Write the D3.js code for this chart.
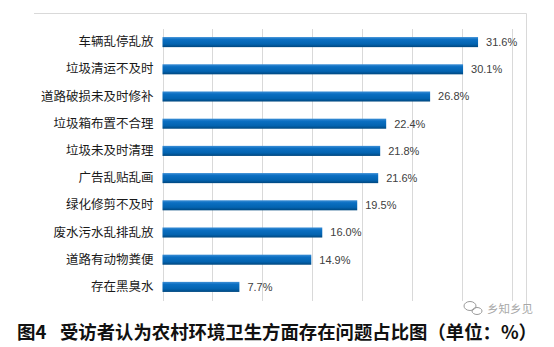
<!DOCTYPE html>
<html>
<head>
<meta charset="utf-8">
<script src="https://cdn.jsdelivr.net/npm/d3@7"></script>
<style>
  html, body { margin: 0; padding: 0; background: #fff; }
  svg { display: block; }
</style>
</head>
<body>
<svg id="chart" width="554" height="347"></svg>
<script>
// Issues reported by respondents about village sanitation (%)
const categories = [
  "车辆乱停乱放", "垃圾清运不及时", "道路破损未及时修补", "垃圾箱布置不合理",
  "垃圾未及时清理", "广告乱贴乱画", "绿化修剪不及时", "废水污水乱排乱放",
  "道路有动物粪便", "存在黑臭水"
];
const values = [31.6, 30.1, 26.8, 22.4, 21.8, 21.6, 19.5, 16.0, 14.9, 7.7];
const xTicks = [0, 5, 10, 15, 20, 25, 30, 35];
const captionHead = "图4";
const captionBody = "受访者认为农村环境卫生方面存在问题占比图（单位：%）";

const svg = d3.select("#chart");
const cjk = "'Noto Sans CJK SC', 'Noto Sans', sans-serif";

const x = d3.scaleLinear().domain([0, 35]).range([162.5, 512]);
const y = d3.scaleBand().domain(categories).range([28.5, 300.5]).paddingInner(0.63).paddingOuter(0.315);

// bar fill: lighter top edge fading to dark bottom
const grad = svg.append("defs").append("linearGradient")
  .attr("id", "barFill").attr("x1", 0).attr("y1", 0).attr("x2", 0).attr("y2", 1);
grad.append("stop").attr("offset", "0%").attr("stop-color", "#3d8fd6");
grad.append("stop").attr("offset", "25%").attr("stop-color", "#0b6fc2");
grad.append("stop").attr("offset", "70%").attr("stop-color", "#0363b0");
grad.append("stop").attr("offset", "100%").attr("stop-color", "#00477e");

// outer frame (top and right edges)
svg.append("path")
  .attr("d", "M34,13.5H526.5V309")
  .attr("fill", "none").attr("stroke", "#d9d9d9").attr("stroke-width", 1);

// vertical gridlines
svg.append("g").selectAll("line").data(xTicks).join("line")
  .attr("x1", d => Math.round(x(d)) + 0.5).attr("x2", d => Math.round(x(d)) + 0.5)
  .attr("y1", 29).attr("y2", 301)
  .attr("stroke", "#d9d9d9").attr("stroke-width", 1);

// category axis labels
const yAxis = d3.axisLeft(y).tickSize(0).tickPadding(9);
const gy = svg.append("g").attr("transform", `translate(${x(0)},0)`).call(yAxis);
gy.select(".domain").remove();
gy.selectAll("text")
  .attr("font-family", cjk).attr("font-size", 12.5).attr("fill", "#1a1a1a");

// bars
svg.append("g").selectAll("rect").data(values).join("rect")
  .attr("x", x(0))
  .attr("y", (d, i) => y(categories[i]))
  .attr("width", d => x(d) - x(0))
  .attr("height", y.bandwidth())
  .attr("fill", "url(#barFill)");

// value labels
svg.append("g").selectAll("text").data(values).join("text")
  .attr("x", d => x(d) + 8)
  .attr("y", (d, i) => y(categories[i]) + y.bandwidth() / 2)
  .attr("dy", "0.36em")
  .attr("font-family", "'Liberation Sans', Arial, sans-serif")
  .attr("font-size", 11)
  .attr("fill", "#404040")
  .text(d => d.toFixed(1) + "%");

// caption
const cap = svg.append("text")
  .attr("y", 339)
  .attr("font-family", cjk).attr("font-weight", "bold")
  .attr("font-size", 18.5).attr("fill", "#111");
cap.append("tspan").attr("x", 17).text(captionHead);
cap.append("tspan").attr("x", 60)
  .attr("textLength", 477).attr("lengthAdjust", "spacingAndGlyphs")
  .text(captionBody);

// account mark
svg.append("text")
  .attr("x", 487).attr("y", 313)
  .attr("font-family", cjk).attr("font-size", 11.5)
  .attr("fill", "#9a9a9a").attr("opacity", 0.85)
  .text("乡知乡见");
const icon = svg.append("g").attr("fill", "none").attr("stroke", "#9a9a9a").attr("stroke-width", 1);
icon.append("ellipse").attr("cx", 470).attr("cy", 306).attr("rx", 6).attr("ry", 4.5);
icon.append("ellipse").attr("cx", 477).attr("cy", 311).attr("rx", 5).attr("ry", 3.5);
</script>
</body>
</html>
